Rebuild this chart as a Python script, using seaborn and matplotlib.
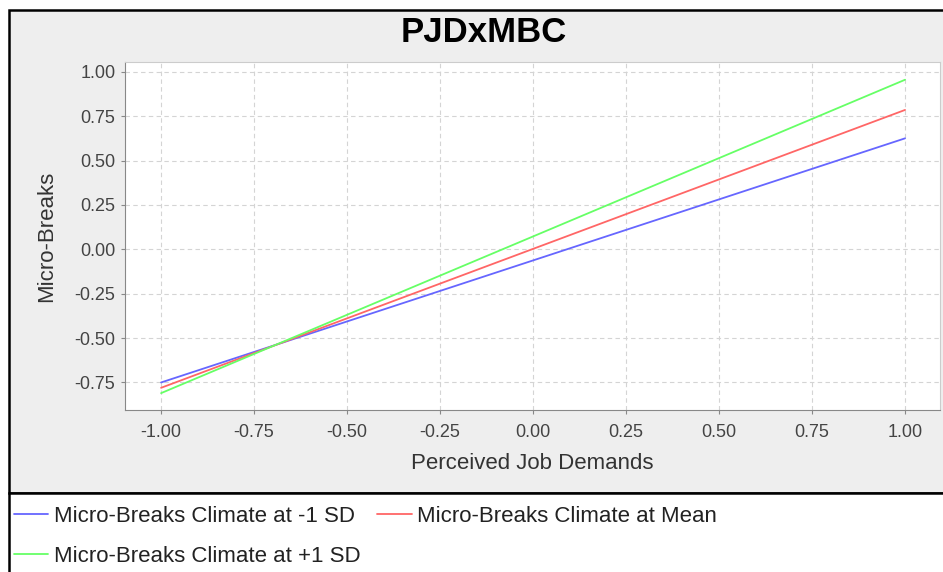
import pandas as pd
import matplotlib.pyplot as plt
import seaborn as sns
from matplotlib.patches import Rectangle

# endpoints of the simple slopes
x_vals = [-1.0, 1.0]
low_sd = [-0.75, 0.625]
mean_level = [-0.78, 0.785]
high_sd = [-0.81, 0.955]
series_names = ["Micro-Breaks Climate at -1 SD", "Micro-Breaks Climate at Mean",
                "Micro-Breaks Climate at +1 SD"]
ticks = [-1.0, -0.75, -0.5, -0.25, 0.0, 0.25, 0.5, 0.75, 1.0]

df = pd.DataFrame({
    "x": x_vals * 3,
    "y": low_sd + mean_level + high_sd,
    "series": [series_names[0]] * 2 + [series_names[1]] * 2 + [series_names[2]] * 2,
})

sns.set_style("white")
plt.rcParams["font.family"] = ["Liberation Sans", "DejaVu Sans"]

fig = plt.figure(figsize=(9.43, 5.72), dpi=100)
fig.patch.set_facecolor("white")

# chart background and legend box
fig.patches.append(Rectangle((9 / 943, 1 - 493 / 572), 1.0, (493 - 10) / 572,
                             transform=fig.transFigure, facecolor="#EEEEEE",
                             edgecolor="black", lw=1.8, zorder=-2))
fig.patches.append(Rectangle((9 / 943, -0.01), 1.0, 1 - 493 / 572 + 0.01,
                             transform=fig.transFigure, facecolor="white",
                             edgecolor="black", lw=1.8, zorder=-2))

ax = fig.add_axes([125 / 943, 1 - 410 / 572, (940 - 125) / 943, (410 - 62) / 572])
ax.set_facecolor("white")

palette = {series_names[0]: "#6666FF", series_names[1]: "#FF6666", series_names[2]: "#66FF66"}
sns.lineplot(data=df, x="x", y="y", hue="series", palette=palette, ax=ax, lw=1.3,
             legend=False)

ax.set_xticks(ticks)
ax.set_yticks(ticks)
ax.set_xticklabels([f"{t:.2f}" for t in ticks])
ax.set_yticklabels([f"{t:.2f}" for t in ticks])
ax.set_xlim(-1.097, 1.094)
ax.set_ylim(-0.905, 1.055)
ax.grid(True, color="#D4D4D4", linestyle=(0, (4, 3)), lw=0.8)
ax.tick_params(axis="both", labelsize=13, colors="#444444", length=3, width=0.8,
               color="#888888", direction="out", left=True, bottom=True)
ax.tick_params(axis="x", pad=7)
ax.tick_params(axis="y", pad=4)
for side in ["left", "bottom"]:
    ax.spines[side].set_color("#888888")
for side in ["top", "right"]:
    ax.spines[side].set_color("#CCCCCC")

ax.set_xlabel("Perceived Job Demands", fontsize=16, color="#333333", labelpad=9)
ax.set_ylabel("Micro-Breaks", fontsize=16, color="#333333", labelpad=12)

fig.text(484 / 943, 1 - 33 / 572, "PJDxMBC", fontsize=25, fontweight="bold",
         color="black", ha="center", va="center")

handles = [plt.Line2D([], [], color=palette[n], lw=1.3) for n in series_names]
order = [0, 2, 1]
fig.legend([handles[i] for i in order], [series_names[i] for i in order],
           loc="upper left", bbox_to_anchor=(14 / 943, 1 - 506 / 572), ncol=2,
           frameon=False, fontsize=16, handlelength=1.55, handletextpad=0.25,
           columnspacing=0.75, labelspacing=0.86, borderaxespad=0, borderpad=0,
           labelcolor="#222222")

fig.savefig("out.png", dpi=100)
